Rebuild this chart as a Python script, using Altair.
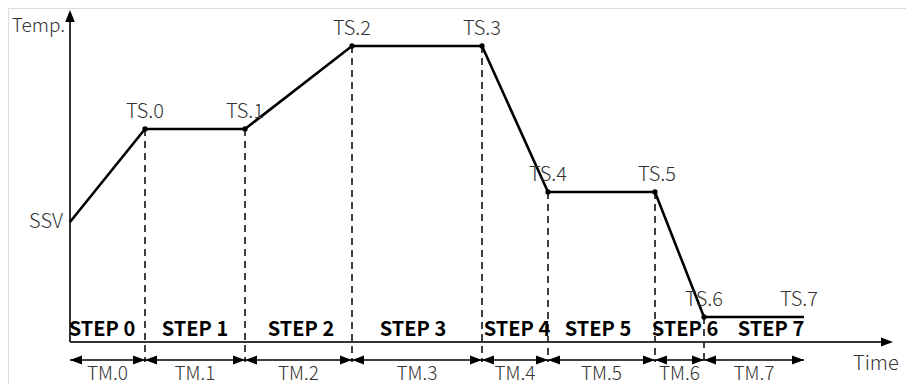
import altair as alt
import pandas as pd

# ---- data (time units measured from the origin, temperature units above the time axis)
step_names = ["STEP 0", "STEP 1", "STEP 2", "STEP 3", "STEP 4", "STEP 5", "STEP 6", "STEP 7"]
tm_names = ["TM.0", "TM.1", "TM.2", "TM.3", "TM.4", "TM.5", "TM.6", "TM.7"]
ts_names = ["TS.0", "TS.1", "TS.2", "TS.3", "TS.4", "TS.5", "TS.6", "TS.7"]
step_bounds = [0, 75, 175, 282, 412, 478, 585, 634, 734]
ssv_temp = 120
ts_temps = [213, 213, 296, 296, 150, 150, 25, 25]
step_label_t = [32, 125, 231, 343, 447, 528, 615, 701]
ts_label_t = [75, 175, 282, 412, 478, 587, 634, 729]
time_axis_end = 823
temp_axis_end = 332

FONT = "Noto Sans CJK SC"
GRAY = "#333333"

xs = alt.Scale(domain=[-62, 836], nice=False, zero=False)
ys = alt.Scale(domain=[-42, 334], nice=False, zero=False)


def X(f="t"):
    return alt.X(f"{f}:Q", scale=xs, axis=None)


def Y(f="v"):
    return alt.Y(f"{f}:Q", scale=ys, axis=None)


profile = pd.DataFrame({"t": step_bounds, "v": [ssv_temp] + ts_temps, "o": list(range(9))})
pts = pd.DataFrame({"t": step_bounds[1:8], "v": ts_temps[:7]})
dashes = pd.DataFrame({"t": step_bounds[1:8], "v": ts_temps[:7], "v2": [-20] * 7})

y_axis_df = pd.DataFrame({"t": [0], "v": [0], "v2": [temp_axis_end - 10]})
x_axis_df = pd.DataFrame({"t": [0], "t2": [time_axis_end - 10], "v": [0]})

tm_df = pd.DataFrame({"t": step_bounds[:-1], "t2": step_bounds[1:], "v": [-18] * 8})
right_heads = pd.DataFrame({"t": step_bounds[1:] + [time_axis_end], "v": [-18] * 8 + [0]})
left_heads = pd.DataFrame({"t": step_bounds[:-1], "v": [-18] * 8})
up_head = pd.DataFrame({"t": [0], "v": [temp_axis_end]})

mids = [(a + b) / 2 for a, b in zip(step_bounds[:-1], step_bounds[1:])]
tm_lab = pd.DataFrame({"t": mids, "v": [-32] * 8, "label": tm_names})
step_lab = pd.DataFrame({"t": step_label_t, "v": [12] * 8, "label": step_names})
ts_lab = pd.DataFrame({"t": ts_label_t, "v": ts_temps, "label": ts_names})
temp_lab = pd.DataFrame({"t": [-5], "v": [316], "label": ["Temp."]})
ssv_lab = pd.DataFrame({"t": [-7], "v": [ssv_temp], "label": ["SSV"]})
time_lab = pd.DataFrame({"t": [783], "v": [-22], "label": ["Time"]})

RIGHT = "M0,0L-2,-0.75L-2,0.75Z"
LEFT = "M0,0L2,-0.75L2,0.75Z"
UP = "M0,0L-0.8,2L0.8,2Z"

layers = [
    alt.Chart(dashes).mark_rule(color="black", strokeWidth=1.5, strokeDash=[7, 5]).encode(
        x=X(), y=Y(), y2="v2:Q"),
    alt.Chart(y_axis_df).mark_rule(color=GRAY, strokeWidth=2).encode(x=X(), y=Y(), y2="v2:Q"),
    alt.Chart(x_axis_df).mark_rule(color=GRAY, strokeWidth=2).encode(x=X(), x2="t2:Q", y=Y()),
    alt.Chart(tm_df).mark_rule(color="black", strokeWidth=1.5).encode(x=X(), x2="t2:Q", y=Y()),
    alt.Chart(right_heads).mark_point(shape=RIGHT, size=144, filled=True, color="black", opacity=1, strokeWidth=0).encode(x=X(), y=Y()),
    alt.Chart(left_heads).mark_point(shape=LEFT, size=144, filled=True, color="black", opacity=1, strokeWidth=0).encode(x=X(), y=Y()),
    alt.Chart(up_head).mark_point(shape=UP, size=144, filled=True, color="black", opacity=1, strokeWidth=0).encode(x=X(), y=Y()),
    alt.Chart(profile).mark_line(color="black", strokeWidth=2.6).encode(x=X(), y=Y(), order="o:Q"),
    alt.Chart(pts).mark_point(shape="circle", size=28, filled=True, color="black", opacity=1).encode(x=X(), y=Y()),
    alt.Chart(tm_lab).mark_text(font=FONT, fontSize=19, fontWeight=300, color=GRAY, baseline="middle").encode(
        x=X(), y=Y(), text="label:N"),
    alt.Chart(step_lab).mark_text(font=FONT, fontSize=20, fontWeight="bold", color="black", baseline="middle").encode(
        x=X(), y=Y(), text="label:N"),
    alt.Chart(ts_lab).mark_text(font=FONT, fontSize=20, fontWeight=300, color=GRAY, baseline="middle", dy=-17).encode(
        x=X(), y=Y(), text="label:N"),
    alt.Chart(temp_lab).mark_text(font=FONT, fontSize=19, fontWeight=300, color=GRAY, baseline="middle", align="right").encode(
        x=X(), y=Y(), text="label:N"),
    alt.Chart(ssv_lab).mark_text(font=FONT, fontSize=20, fontWeight=300, color=GRAY, baseline="middle", align="right").encode(
        x=X(), y=Y(), text="label:N"),
    alt.Chart(time_lab).mark_text(font=FONT, fontSize=20, fontWeight=300, color=GRAY, baseline="middle", align="left").encode(
        x=X(), y=Y(), text="label:N"),
]

chart = alt.layer(*layers).properties(
    width=898, height=376, autosize=alt.AutoSizeParams(type="none"), padding=0
).configure_view(stroke=None).configure(background="white")

chart.save("out.html", embed_options={"renderer": "svg", "actions": False})
